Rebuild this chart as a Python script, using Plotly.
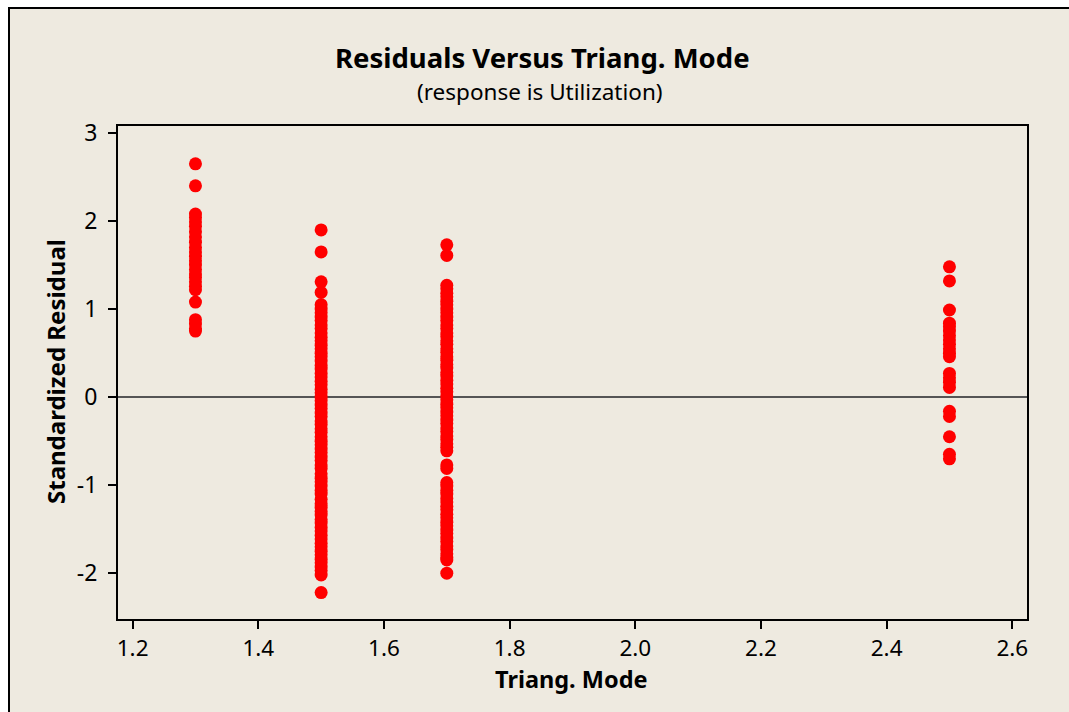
import plotly.graph_objects as go

# Triang. Mode levels
mode_levels = [1.3, 1.5, 1.7, 2.5]

# Standardized residuals read for each level
res_13 = [2.65, 2.40, 2.08, 2.04, 1.99, 1.94, 1.88, 1.82, 1.76, 1.70, 1.65, 1.60,
          1.55, 1.50, 1.45, 1.40, 1.36, 1.31, 1.26, 1.22, 1.08, 0.88, 0.83, 0.78, 0.75]
res_15 = [1.90, 1.65, 1.31, 1.19, 1.05, 1.00, 0.96, 0.91, 0.87, 0.82, 0.78, 0.73,
          0.68, 0.64, 0.59, 0.55, 0.50, 0.46, 0.41, 0.36, 0.32, 0.27, 0.23, 0.18,
          0.14, 0.09, 0.05, 0.00, -0.04, -0.09, -0.13, -0.18, -0.22, -0.27, -0.31,
          -0.36, -0.40, -0.45, -0.50, -0.54, -0.59, -0.63, -0.68, -0.72, -0.77,
          -0.81, -0.87, -0.92, -0.96, -1.01, -1.06, -1.10, -1.16, -1.21, -1.25,
          -1.30, -1.34, -1.39, -1.43, -1.48, -1.52, -1.57, -1.61, -1.66, -1.70,
          -1.75, -1.79, -1.84, -1.88, -1.93, -1.97, -2.02, -2.22]
res_17 = [1.73, 1.61, 1.27, 1.23, 1.18, 1.14, 1.09, 1.05, 1.00, 0.96, 0.91, 0.87,
          0.82, 0.78, 0.73, 0.69, 0.64, 0.60, 0.55, 0.51, 0.46, 0.42, 0.37, 0.33,
          0.28, 0.24, 0.19, 0.15, 0.10, 0.06, 0.01, -0.03, -0.08, -0.12, -0.17,
          -0.21, -0.26, -0.30, -0.35, -0.39, -0.44, -0.48, -0.53, -0.57, -0.61,
          -0.77, -0.81, -0.97, -1.01, -1.06, -1.10, -1.15, -1.19, -1.24, -1.28,
          -1.33, -1.37, -1.42, -1.46, -1.51, -1.55, -1.60, -1.64, -1.69, -1.73,
          -1.78, -1.82, -1.85, -2.00]
res_25 = [1.48, 1.32, 0.99, 0.84, 0.80, 0.75, 0.70, 0.65, 0.60, 0.55, 0.50, 0.46,
          0.27, 0.22, 0.17, 0.11, -0.16, -0.22, -0.45, -0.65, -0.70]

x_ticks = [1.2, 1.4, 1.6, 1.8, 2.0, 2.2, 2.4, 2.6]
x_tick_labels = ["1.2", "1.4", "1.6", "1.8", "2.0", "2.2", "2.4", "2.6"]
y_ticks = [-2, -1, 0, 1, 2, 3]
y_tick_labels = ["-2", "-1", "0", "1", "2", "3"]

groups = [res_13, res_15, res_17, res_25]
xs, ys = [], []
for lvl, vals in zip(mode_levels, groups):
    xs += [lvl] * len(vals)
    ys += vals

FONT = "Noto Sans"

fig = go.Figure()
fig.add_trace(go.Scatter(
    x=xs, y=ys, mode="markers",
    marker=dict(color="#FF0000", size=13, line=dict(width=0)),
    showlegend=False, hoverinfo="x+y",
))

L, R, T, B = 118, 1027, 126, 619
W, H = 1069, 712
pw, ph = R - L, B - T

def px_x(p):
    return (p - L) / pw

def px_y(p):
    return (B - p) / ph

fig.update_layout(
    width=W, height=H,
    margin=dict(l=L, r=W - R, t=T, b=H - B, pad=0),
    paper_bgcolor="white",
    plot_bgcolor="white",
    font=dict(family=FONT, color="black"),
    shapes=[
        dict(type="rect", xref="paper", yref="paper", layer="below",
             x0=px_x(9), x1=px_x(1080), y0=px_y(730), y1=px_y(8),
             fillcolor="#EEEAE0", line=dict(color="black", width=2)),
    ],
    annotations=[
        dict(text="<b>Residuals Versus Triang. Mode</b>", xref="paper", yref="paper",
             x=px_x(542), y=px_y(57), showarrow=False, xanchor="center", yanchor="middle",
             font=dict(size=27.5, family=FONT)),
        dict(text="(response is Utilization)", xref="paper", yref="paper",
             x=px_x(540), y=px_y(91), showarrow=False, xanchor="center", yanchor="middle",
             font=dict(size=22.5, family=FONT)),
        dict(text="<b>Triang. Mode</b>", xref="paper", yref="paper",
             x=px_x(571), y=px_y(679), showarrow=False, xanchor="center", yanchor="middle",
             font=dict(size=23.5, family=FONT)),
        dict(text="<b>Standardized Residual</b>", xref="paper", yref="paper",
             x=px_x(55), y=px_y(372), showarrow=False, xanchor="center", yanchor="middle",
             textangle=-90, font=dict(size=24, family=FONT)),
    ],
)

fig.update_xaxes(
    range=[1.1767, 2.6234], tickvals=x_ticks, ticktext=x_tick_labels,
    showgrid=False, zeroline=False,
    showline=True, mirror=True, linecolor="black", linewidth=2,
    ticks="outside", ticklen=8, tickwidth=2, tickcolor="black",
    tickfont=dict(size=22.5, family=FONT, color="black"),
    ticklabelstandoff=0,
)
fig.update_yaxes(
    range=[-2.52, 3.08], tickvals=y_ticks, ticktext=y_tick_labels,
    showgrid=False, zeroline=True, zerolinecolor="#555555", zerolinewidth=1.5,
    showline=True, mirror=True, linecolor="black", linewidth=2,
    ticks="outside", ticklen=8, tickwidth=2, tickcolor="black",
    tickfont=dict(size=23, family=FONT, color="black"),
    ticklabelstandoff=6,
)

fig.write_html("out.html")
